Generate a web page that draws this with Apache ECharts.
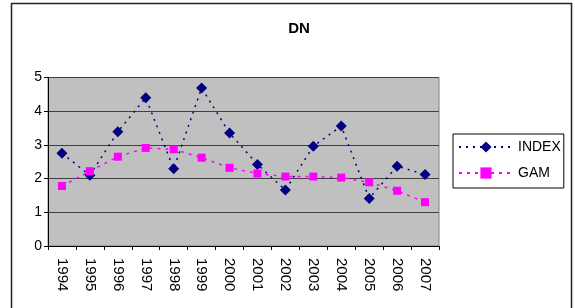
<!DOCTYPE html>
<html>
<head>
<meta charset="utf-8">
<script src="https://cdn.jsdelivr.net/npm/echarts@6/dist/echarts.min.js"></script>
<style>html,body{margin:0;padding:0;background:#fff;}#c{width:575px;height:308px;}</style>
</head>
<body>
<div id="c"></div>
<script>
var categories = ['1994','1995','1996','1997','1998','1999','2000','2001','2002','2003','2004','2005','2006','2007'];
var indexValues = [2.75, 2.10, 3.39, 4.40, 2.29, 4.69, 3.35, 2.42, 1.66, 2.96, 3.56, 1.41, 2.37, 2.12];
var gamValues = [1.78, 2.22, 2.65, 2.91, 2.87, 2.62, 2.32, 2.15, 2.06, 2.06, 2.03, 1.89, 1.64, 1.30];
var yTicks = [0, 1, 2, 3, 4, 5];

var chart = echarts.init(document.getElementById('c'), null, {renderer: 'canvas'});
var font = 'Liberation Sans, Arial, sans-serif';
chart.setOption({
  animation: false,
  backgroundColor: '#fff',
  textStyle: {fontFamily: font},
  title: {
    text: 'DN', left: 294, top: 16, textAlign: 'center',
    textStyle: {fontSize: 15, fontWeight: 'bold', color: '#000', fontFamily: font}
  },
  graphic: [{
    type: 'rect', shape: {x: 11.5, y: 3.5, width: 560, height: 320},
    style: {fill: null, stroke: '#222', lineWidth: 1.5}, z: 100, silent: true
  }],
  legend: {
    orient: 'vertical', left: 453, top: 134,
    padding: [6, 3, 8, 5], itemGap: 12, itemWidth: 54, itemHeight: 14,
    borderColor: '#000', borderWidth: 1,
    textStyle: {fontSize: 14, color: '#000', fontFamily: font},
    data: ['INDEX', 'GAM']
  },
  grid: {left: 48, right: 136, top: 77.5, bottom: 62, show: true, backgroundColor: '#C0C0C0', borderColor: '#808080', borderWidth: 1},
  xAxis: {
    type: 'category', data: categories, boundaryGap: true,
    axisLine: {lineStyle: {color: '#000', width: 1}},
    axisTick: {show: true, inside: false, length: 4, lineStyle: {color: '#000'}},
    axisLabel: {rotate: -90, fontSize: 15, color: '#000', margin: 12, fontFamily: font}
  },
  yAxis: {
    type: 'value', min: yTicks[0], max: yTicks[yTicks.length - 1], interval: 1,
    axisLine: {show: true, lineStyle: {color: '#000', width: 1}},
    axisTick: {show: true, length: 4, lineStyle: {color: '#000'}},
    axisLabel: {fontSize: 14, color: '#000', margin: 6, fontFamily: font},
    splitLine: {show: true, lineStyle: {color: '#404040', width: 1}}
  },
  series: [{
    name: 'INDEX', type: 'line', data: indexValues,
    symbol: 'diamond', symbolSize: 11,
    itemStyle: {color: '#000080'},
    lineStyle: {color: '#000080', width: 1.5, type: [2, 5]}
  }, {
    name: 'GAM', type: 'line', data: gamValues,
    symbol: 'rect', symbolSize: 8,
    itemStyle: {color: '#FF00FF'},
    lineStyle: {color: '#FF00FF', width: 1.5, type: [3, 5]}
  }]
});
</script>
</body>
</html>
